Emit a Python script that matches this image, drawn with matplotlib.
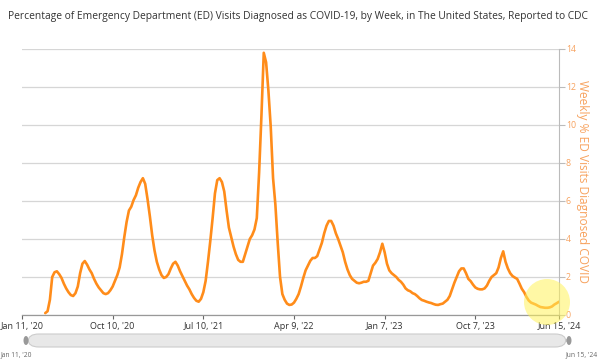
import numpy as np
import pandas as pd
import matplotlib
matplotlib.use("Agg")
import matplotlib.pyplot as plt
from matplotlib.patches import Ellipse, FancyBboxPatch

plt.rcParams['font.family'] = ['Open Sans', 'DejaVu Sans']

# weekly % of ED visits diagnosed as COVID-19, week ending dates from Mar 21 '20
first_week = "2020-03-21"
pct_covid = [
    0.1, 0.2, 0.8, 2.0, 2.25, 2.3, 2.15, 1.95, 1.65, 1.4,
    1.2, 1.05, 1.0, 1.15, 1.5, 2.2, 2.7, 2.84, 2.65, 2.4,
    2.2, 1.9, 1.65, 1.45, 1.3, 1.15, 1.1, 1.15, 1.3, 1.5,
    1.8, 2.1, 2.5, 3.2, 4.1, 4.9, 5.5, 5.7, 6.05, 6.3,
    6.7, 7.0, 7.2, 6.9, 6.1, 5.2, 4.2, 3.4, 2.8, 2.4,
    2.1, 1.95, 2.0, 2.15, 2.45, 2.7, 2.8, 2.6, 2.3, 2.05,
    1.8, 1.55, 1.35, 1.1, 0.9, 0.75, 0.7, 0.85, 1.2, 1.8,
    2.8, 3.9, 5.1, 6.4, 7.1, 7.2, 7.0, 6.5, 5.5, 4.6,
    4.1, 3.6, 3.2, 2.9, 2.8, 2.8, 3.2, 3.6, 4.0, 4.2,
    4.5, 5.1, 7.5, 10.5, 13.8, 13.3, 11.8, 9.9, 7.2, 5.8,
    3.8, 2.0, 1.1, 0.8, 0.6, 0.53, 0.55, 0.65, 0.85, 1.1,
    1.5, 1.95, 2.35, 2.6, 2.85, 3.0, 3.0, 3.1, 3.45, 3.8,
    4.3, 4.7, 4.95, 4.95, 4.7, 4.3, 4.0, 3.65, 3.3, 2.8,
    2.4, 2.1, 1.9, 1.8, 1.7, 1.67, 1.7, 1.75, 1.75, 1.8,
    2.2, 2.6, 2.75, 2.95, 3.3, 3.75, 3.3, 2.7, 2.35, 2.2,
    2.1, 2.0, 1.85, 1.75, 1.6, 1.4, 1.3, 1.25, 1.15, 1.1,
    1.0, 0.88, 0.79, 0.75, 0.7, 0.66, 0.63, 0.58, 0.54, 0.53,
    0.57, 0.6, 0.7, 0.8, 1.0, 1.35, 1.7, 2.0, 2.3, 2.45,
    2.45, 2.2, 1.9, 1.78, 1.6, 1.45, 1.38, 1.35, 1.35, 1.4,
    1.55, 1.8, 2.0, 2.1, 2.2, 2.5, 3.0, 3.35, 2.8, 2.45,
    2.2, 2.05, 1.97, 1.9, 1.65, 1.38, 1.2, 0.95, 0.76, 0.65,
    0.6, 0.55, 0.48, 0.42, 0.4, 0.38, 0.38, 0.4, 0.45, 0.55,
    0.62, 0.7,
]
weeks = pd.date_range(first_week, periods=len(pct_covid), freq="7D")

tick_dates = ["2020-01-11", "2020-10-10", "2021-07-10", "2022-04-09",
              "2023-01-07", "2023-10-07", "2024-06-15"]
tick_labels = ["Jan 11, '20", "Oct 10, '20", "Jul 10, '21", "Apr 9, '22",
               "Jan 7, '23", "Oct 7, '23", "Jun 15, '24"]
y_ticks = [0, 2, 4, 6, 8, 10, 12, 14]

orange = "#ff8c1a"
label_orange = "#f7a25e"

fig = plt.figure(figsize=(6, 3.6), dpi=100)
ax = fig.add_axes([22 / 600, 1 - 315 / 360, 537 / 600, 266 / 360])

ax.plot(weeks, pct_covid, color=orange, lw=1.9, solid_joinstyle="round",
        solid_capstyle="round", zorder=3)

ax.set_xlim(pd.Timestamp(tick_dates[0]), pd.Timestamp(tick_dates[-1]))
ax.set_ylim(0, 14)

# right-hand value axis
ax.yaxis.tick_right()
ax.yaxis.set_label_position("right")
ax.set_yticks(y_ticks)
ax.tick_params(axis="y", colors="#bbbbbb", labelcolor=label_orange,
               labelsize=6.3, length=4, width=0.8, pad=1)
ax.set_ylabel("Weekly % ED Visits Diagnosed COVID", color=label_orange,
              fontsize=8.6, rotation=270, labelpad=9)
ax.grid(axis="y", color="#d6d6d6", lw=0.9, zorder=0)

ax.set_xticks([pd.Timestamp(d) for d in tick_dates])
ax.set_xticklabels(tick_labels)
ax.tick_params(axis="x", colors="#666666", labelcolor="#333333",
               labelsize=6.5, length=3, width=0.8, pad=2)

for side in ["top", "left"]:
    ax.spines[side].set_visible(False)
ax.spines["right"].set_color("#bbbbbb")
ax.spines["bottom"].set_color("#999999")
ax.spines["bottom"].set_linewidth(0.9)

# title
fig.text(0.496, 1 - 17 / 360, "Percentage of Emergency Department (ED) Visits "
         "Diagnosed as COVID-19, by Week, in The United States, Reported to CDC",
         ha="center", va="center", fontsize=7.4, color="#333333")

# highlight circle around latest weeks
fig.patches.append(Ellipse((547 / 600, 1 - 302 / 360), 46 / 600, 46 / 360,
                           transform=fig.transFigure, facecolor="#fff35c",
                           alpha=0.55, edgecolor="none", zorder=5))

# navigator bar
fig.patches.append(FancyBboxPatch((28 / 600, 1 - 347 / 360), 538 / 600, 13 / 360,
                                  boxstyle="round,pad=0,rounding_size=0.018",
                                  transform=fig.transFigure, facecolor="#e8e8e8",
                                  edgecolor="#cccccc", lw=0.8, mutation_aspect=1.2))
fig.patches.append(Ellipse((26 / 600, 1 - 340.5 / 360), 5 / 600, 9 / 360,
                           transform=fig.transFigure, facecolor="#999999",
                           edgecolor="none"))
fig.patches.append(Ellipse((569 / 600, 1 - 340.5 / 360), 5 / 600, 9 / 360,
                           transform=fig.transFigure, facecolor="#999999",
                           edgecolor="none"))
fig.text(1 / 600, 1 - 355 / 360, tick_labels[0], ha="left", va="center",
         fontsize=4.8, color="#666666")
fig.text(598 / 600, 1 - 355 / 360, tick_labels[-1], ha="right", va="center",
         fontsize=4.8, color="#666666")

fig.savefig("out.png", dpi=100, facecolor="white")
